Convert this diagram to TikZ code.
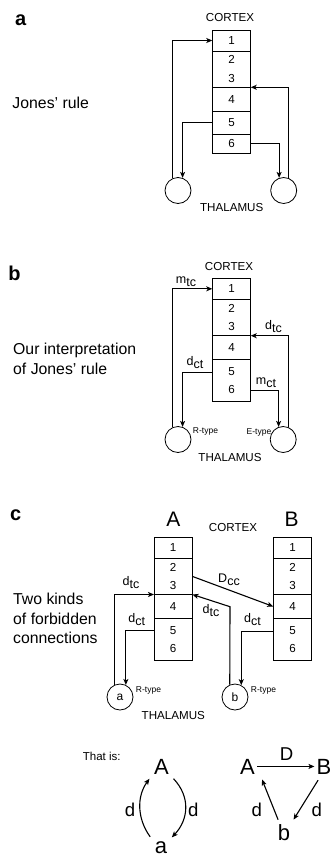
\documentclass[tikz,border=0pt]{standalone}
\usepackage{fontspec}
\setmainfont{Liberation Sans}
\usetikzlibrary{arrows.meta}
\newcommand\setfs[1]{\fontsize{#1}{#1}\selectfont}
\newcommand\sbs[2]{#1\raisebox{-0.45ex}{#2}}
\begin{document}
\begin{tikzpicture}[x=1pt,y=-1pt,
  lay/.style={draw, line width=0.8pt, minimum width=38.4pt, inner sep=0pt, outer sep=0pt, anchor=north west, align=center, font=\setfs{11.6}},
  l23/.style={font=\fontsize{11.6}{18.6}\selectfont},
  thal/.style={draw, circle, line width=0.8pt, minimum size=26pt, inner sep=0pt, font=\setfs{12}},
  arr/.style={line width=1.1pt, -{Stealth[length=6pt,width=5pt,inset=1.5pt]}},
  lab/.style={inner sep=0pt, font=\setfs{11.6}},
  sub/.style={inner sep=0pt, font=\setfs{12.5}},
  side/.style={inner sep=0pt, anchor=base west, font=\setfs{15.8}},
  plabel/.style={inner sep=0pt, anchor=base west, font=\bfseries\setfs{20}},
  tinyl/.style={inner sep=0pt, font=\setfs{8.5}},
  bigl/.style={inner sep=2pt, anchor=base, font=\setfs{22}},
  dl/.style={inner sep=0pt, anchor=base, font=\setfs{18.6}}
]
\useasboundingbox (0,0) rectangle (334,857);

% ---------------- panel a ----------------
\node[plabel] (pa) at (15,25) {a};
\node[lab] (cxa) at (230,18) {CORTEX};
\node[side] (ja) at (12.3,108) {Jones’ rule};
\node[lay, minimum height=21pt] (a1) at (212.3,30) {1};
\node[lay, l23, minimum height=36.3pt] (a23) at (a1.south west) {2\\3};
\node[lay, minimum height=23.7pt] (a4) at (a23.south west) {4};
\node[lay, minimum height=23pt] (a5) at (a4.south west) {5};
\node[lay, minimum height=19.3pt] (a6) at (a5.south west) {6};
\node[thal] (la) at (178,190.5) {};
\node[thal] (ra) at (283.7,190.5) {};
\node[lab] (tha) at (231.7,208) {THALAMUS};
\draw[arr] (la.115) |- (a1.west);
\draw[arr] (ra.70) |- (a23.south east);
\draw[arr] (a5.west) -| (la.70);
\draw[arr] (a6.east) -| (ra.110);

% ---------------- panel b ----------------
\node[plabel] (pb) at (8.3,280) {b};
\node[lab] (cxb) at (229,266.7) {CORTEX};
\node[side] (jb1) at (13,354.6) {Our interpretation};
\node[side] (jb2) at (13,374.6) {of Jones’ rule};
\node[lay, minimum height=21pt] (b1) at (212.3,278.3) {1};
\node[lay, l23, minimum height=36.4pt] (b23) at (b1.south west) {2\\3};
\node[lay, minimum height=23.6pt] (b4) at (b23.south west) {4};
\node[lay, l23, minimum height=42.4pt] (b56) at (b4.south west) {5\\6};
\node[thal] (lb) at (178,439.5) {};
\node[thal] (rb) at (283.2,439.5) {};
\node[tinyl] (rtb) at (205.5,431.7) {R-type};
\node[tinyl] (etb) at (259,432) {E-type};
\node[lab] (thb) at (230,457) {THALAMUS};
\node[sub] (mtc) at (186,282) {\sbs{m}{tc}};
\node[sub] (dtcb) at (273.5,327) {\sbs{d}{tc}};
\node[sub] (dctb) at (195,362.5) {\sbs{d}{ct}};
\node[sub] (mctb) at (266,382.5) {\sbs{m}{ct}};
\draw[arr] (lb.115) |- (b1.west);
\draw[arr] (rb.66) |- (b23.south east);
\draw[arr] ([yshift=8pt]b56.west) -| (lb.70);
\draw[arr] ([yshift=-10pt]b56.east) -| (rb.110);

% ---------------- panel c ----------------
\node[plabel] (pc) at (10,520) {c};
\node[inner sep=0pt, font=\setfs{21}] (hA) at (173.3,519.7) {A};
\node[inner sep=0pt, font=\setfs{21}] (hB) at (291.7,519.7) {B};
\node[lab] (cxc) at (233,527.3) {CORTEX};
\node[side] (tc1) at (13,604.6) {Two kinds};
\node[side] (tc2) at (13,624.1) {of forbidden};
\node[side] (tc3) at (13,643.6) {connections};
\node[lay, minimum height=21pt] (A1) at (154,537.3) {1};
\node[lay, l23, minimum height=36.2pt] (A23) at (A1.south west) {2\\3};
\node[lay, minimum height=24pt] (A4) at (A23.south west) {4};
\node[lay, l23, minimum height=42.2pt] (A56) at (A4.south west) {5\\6};
\node[lay, minimum height=21pt] (B1) at (273.3,537.3) {1};
\node[lay, l23, minimum height=36.2pt] (B23) at (B1.south west) {2\\3};
\node[lay, minimum height=24pt] (B4) at (B23.south west) {4};
\node[lay, l23, minimum height=42.2pt] (B56) at (B4.south west) {5\\6};
\node[thal] (ca) at (120,697) {a};
\node[thal] (cb) at (235,697) {b};
\node[tinyl] (rta) at (148.5,690) {R-type};
\node[tinyl] (rtbb) at (263.5,690) {R-type};
\node[lab] (thc) at (173.3,715.7) {THALAMUS};
\node[sub] (dtc1) at (131,583) {\sbs{d}{tc}};
\node[sub] (dcc) at (229,580) {\sbs{D}{cc}};
\node[sub] (dtc2) at (211,611) {\sbs{d}{tc}};
\node[sub] (dct1) at (136.7,620) {\sbs{d}{ct}};
\node[sub] (dct2) at (252.5,620) {\sbs{d}{ct}};
\coordinate (kb) at (230,606.7);
\draw[arr] (ca.113) |- (A23.south west);
\draw[arr] ([yshift=8.9pt]A56.west) -| (ca.64);
\draw[arr] (cb.113) -- (kb) -- (A23.south east);
\draw[arr] (A23.east) -- (B4.west);
\draw[arr] ([yshift=7.9pt]B56.west) -| (cb.62);

% ---------------- bottom ----------------
\node[inner sep=0pt, anchor=base west, font=\setfs{11.5}] (thatis) at (82.7,760.7) {That is:};
\node[bigl, inner sep=4.5pt] (sA) at (161.5,774) {A};
\node[bigl, inner sep=0pt] (sa) at (161,853.4) {a};
\node[dl] (sd1) at (130,816.7) {d};
\node[dl] (sd2) at (193.3,816.7) {d};
\draw[arr] ([xshift=-4.5pt,yshift=4.5pt]sa.north west) .. controls +(-13,-18) and +(-13,18) .. (sA.south west);
\draw[arr] (sA.south east) .. controls +(17,18) and +(17,-18) .. ([xshift=4.5pt,yshift=4pt]sa.north east);

\node[bigl] (rA) at (247.5,774) {A};
\node[bigl] (rB) at (324,774) {B};
\node[bigl] (rbb) at (284,840) {b};
\node[dl] (rD) at (286.7,760) {D};
\node[dl] (rd1) at (256.7,816.7) {d};
\node[dl] (rd2) at (316.7,816.7) {d};
\draw[arr] (rA.east) -- (rB.west);
\draw[arr] ([xshift=2.4pt,yshift=2.2pt]rbb.north west) -- ([xshift=5pt,yshift=-3.3pt]rA.south east);
\draw[arr] ([xshift=3.6pt,yshift=-4pt]rB.south west) -- ([xshift=1.2pt,yshift=2.2pt]rbb.north east);
\end{tikzpicture}
\end{document}
